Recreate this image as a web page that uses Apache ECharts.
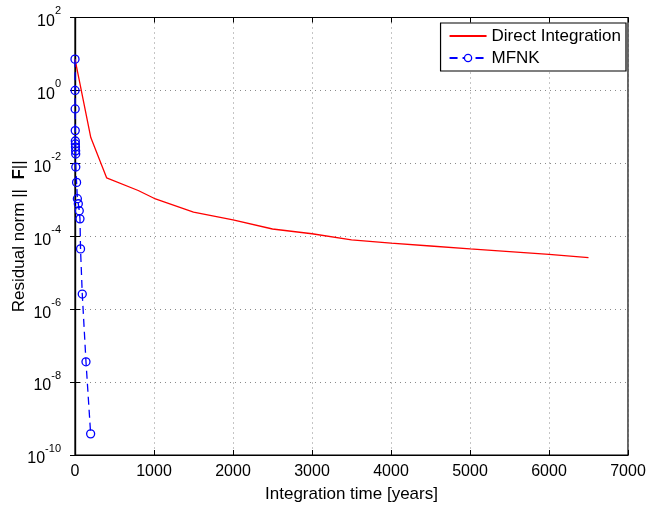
<!DOCTYPE html>
<html>
<head>
<meta charset="utf-8">
<script src="https://cdn.jsdelivr.net/npm/echarts@6/dist/echarts.min.js"></script>
<style>html,body{margin:0;padding:0;background:#fff;}#c{width:651px;height:507px;}</style>
</head>
<body>
<div id="c"></div>
<script>
// Direct Integration
var diTime = [0, 200, 400, 800, 1000, 1500, 2000, 2500, 3000, 3500, 4000, 4500, 5000, 5500, 6000, 6500];
var diNorm = [7.2, 0.051, 0.0040, 0.0018, 0.0011, 4.6e-4, 2.8e-4, 1.58e-4, 1.17e-4, 8.0e-5, 6.5e-5, 5.4e-5, 4.5e-5, 3.8e-5, 3.2e-5, 2.6e-5];
// MFNK
var mfTime = [0, 1, 2, 3, 4, 5, 6, 8, 9, 10, 20, 30, 42, 54, 63, 70, 92, 139, 198];
var mfNorm = [7.2, 1.0, 0.31, 0.079, 0.041, 0.034, 0.028, 0.022, 0.018, 0.0079, 0.0030, 0.00107, 7.8e-4, 5.0e-4, 3.0e-4, 4.5e-5, 2.6e-6, 3.6e-8, 3.8e-10];
var xTicks = [0, 1000, 2000, 3000, 4000, 5000, 6000, 7000];
var yExponents = [-10, -8, -6, -4, -2, 0, 2];

var FONT = 'Liberation Sans';
function pairs(xs, ys) { return xs.map(function (x, i) { return [x, ys[i]]; }); }

var chart = echarts.init(document.getElementById('c'));
var gridLine = { show: true, lineStyle: { color: '#8a8a8a', type: [1, 4], width: 1 } };
chart.setOption({
  animation: false,
  backgroundColor: '#fff',
  grid: { left: 75, right: 23, top: 17.5, bottom: 52, show: true, borderColor: '#000', borderWidth: 1.2, containLabel: false, outerBoundsMode: 'none' },
  legend: {
    orient: 'vertical', right: 25, top: 23,
    backgroundColor: '#fff', borderColor: '#000', borderWidth: 1.2,
    padding: [3, 5, 3, 8], itemWidth: 37, itemHeight: 9, itemGap: 2,
    textStyle: { fontFamily: FONT, fontSize: 17, color: '#000', lineHeight: 20 },
    data: [
      { name: 'Direct Integration', itemStyle: { opacity: 0 } },
      { name: 'MFNK', itemStyle: { color: '#fff', borderColor: '#0000ff', borderWidth: 1.3 } }
    ]
  },
  xAxis: [{
    type: 'value', min: xTicks[0], max: xTicks[xTicks.length - 1], interval: 1000,
    name: 'Integration time [years]', nameLocation: 'middle', nameGap: 31, nameMoveOverlap: false,
    nameTextStyle: { fontFamily: FONT, fontSize: 17, color: '#000' },
    axisLine: { show: true, onZero: false, lineStyle: { color: '#000', width: 1.2 } },
    axisTick: { show: true, inside: true, length: 5, lineStyle: { color: '#000' } },
    axisLabel: { fontFamily: FONT, fontSize: 16, color: '#000', margin: 9, formatter: function (v) { return String(v); } },
    splitLine: gridLine
  }, {
    type: 'value', position: 'top', min: 0, max: 7000, interval: 1000,
    axisLine: { show: true, lineStyle: { color: '#000', width: 1.2 } },
    axisTick: { show: true, inside: true, length: 5, lineStyle: { color: '#000' } },
    axisLabel: { show: false }, splitLine: { show: false }
  }],
  yAxis: [{
    type: 'log', logBase: 10, min: Math.pow(10, yExponents[0]), max: Math.pow(10, yExponents[yExponents.length - 1]), interval: 2,
    name: 'Residual norm ||  {b|F}||', nameLocation: 'middle', nameGap: 47, nameMoveOverlap: false,
    nameTextStyle: { fontFamily: FONT, fontSize: 17, color: '#000', rich: { b: { fontFamily: FONT, fontSize: 17, fontWeight: 'bold', color: '#000' } } },
    axisLine: { show: true, lineStyle: { color: '#000', width: 1.2 } },
    axisTick: { show: true, inside: true, length: 5, lineStyle: { color: '#000' } },
    axisLabel: {
      fontFamily: FONT, color: '#000', margin: 14,
      formatter: function (v) { var e = Math.round(Math.log10(v)); return '{b|10}{s|' + e + '}'; },
      rich: {
        b: { fontFamily: FONT, fontSize: 16, color: '#000', lineHeight: 24, verticalAlign: 'bottom' },
        s: { fontFamily: FONT, fontSize: 11, color: '#000', lineHeight: 24, verticalAlign: 'top' }
      }
    },
    splitLine: gridLine
  }, {
    type: 'log', logBase: 10, position: 'right', min: 1e-10, max: 1e2, interval: 2,
    axisLine: { show: true, lineStyle: { color: '#000', width: 1.2 } },
    axisTick: { show: true, inside: true, length: 5, lineStyle: { color: '#000' } },
    axisLabel: { show: false }, splitLine: { show: false }
  }],
  series: [{
    name: 'Direct Integration', type: 'line', data: pairs(diTime, diNorm),
    symbol: 'none', color: '#ff0000', lineStyle: { color: '#ff0000', width: 1.3 }, z: 3
  }, {
    name: 'MFNK', type: 'line', data: pairs(mfTime, mfNorm),
    symbol: 'circle', symbolSize: 8, showAllSymbol: true, color: '#0000ff',
    itemStyle: { color: 'rgba(0,0,0,0)', borderColor: '#0000ff', borderWidth: 1.3 },
    lineStyle: { color: '#0000ff', width: 1.3, type: [8, 5] }, z: 4
  }]
});
</script>
</body>
</html>
